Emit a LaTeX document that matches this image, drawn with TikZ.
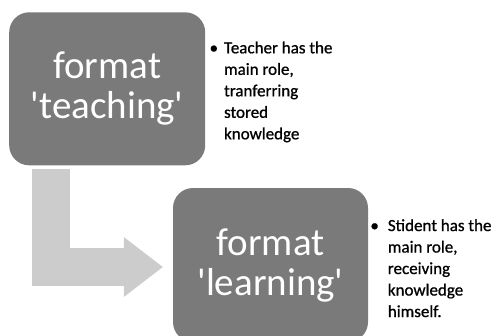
\documentclass[tikz,border=0pt]{standalone}
\usepackage{fontspec}
\setmainfont{Carlito}
\newfontfamily\notefont{Carlito}[FakeBold=0.8]
\usepackage{tikz}
\usetikzlibrary{arrows.meta,positioning}
\definecolor{boxgray}{HTML}{7A7A7A}
\definecolor{arrowgray}{HTML}{CCCCCC}

\begin{document}
\begin{tikzpicture}[
    x=1pt, y=1pt,
    formatbox/.style={rectangle, rounded corners=20pt, fill=boxgray, text=white, minimum width=196pt, minimum height=153pt, inner sep=0pt, align=center, font=\fontsize{39}{40}\selectfont},
    notelist/.style={inner sep=0pt, font=\notefont\fontsize{17}{21.5}\selectfont},
    flowarrow/.style={draw=arrowgray, line width=38pt, line join=miter, -{Triangle[length=39pt, width=60pt, line width=0pt]}}
]
\useasboundingbox (0,0) rectangle (494,335);
\node[formatbox] (teach) at (107.2,246.2) {format\\\textquotesingle teaching\textquotesingle};
\node[formatbox, minimum width=195pt, minimum height=154pt] (learn) at (270.5,70) {format\\\textquotesingle learning\textquotesingle};
\node[notelist, right=4pt of teach.north east, anchor=north west, yshift=-26pt] (teachnote) {%
  \begin{tabular}{@{}l@{\hspace{6pt}}l@{}}
  \textbullet & Teacher has the\\
   & main role,\\
   & tranferring\\
   & stored\\
   & knowledge
  \end{tabular}};
\node[notelist, right=2pt of learn.north east, anchor=north west, yshift=-28pt] (learnnote) {%
  \begin{tabular}{@{}l@{\hspace{9pt}}l@{}}
  \textbullet & Stident has the\\
   & main role,\\
   & receiving\\
   & knowledge\\
   & himself.
  \end{tabular}};
\draw[flowarrow] ([xshift=42pt,yshift=-3pt]teach.south west) |- ([xshift=-10pt,yshift=-2pt]learn.west);
\end{tikzpicture}
\end{document}
